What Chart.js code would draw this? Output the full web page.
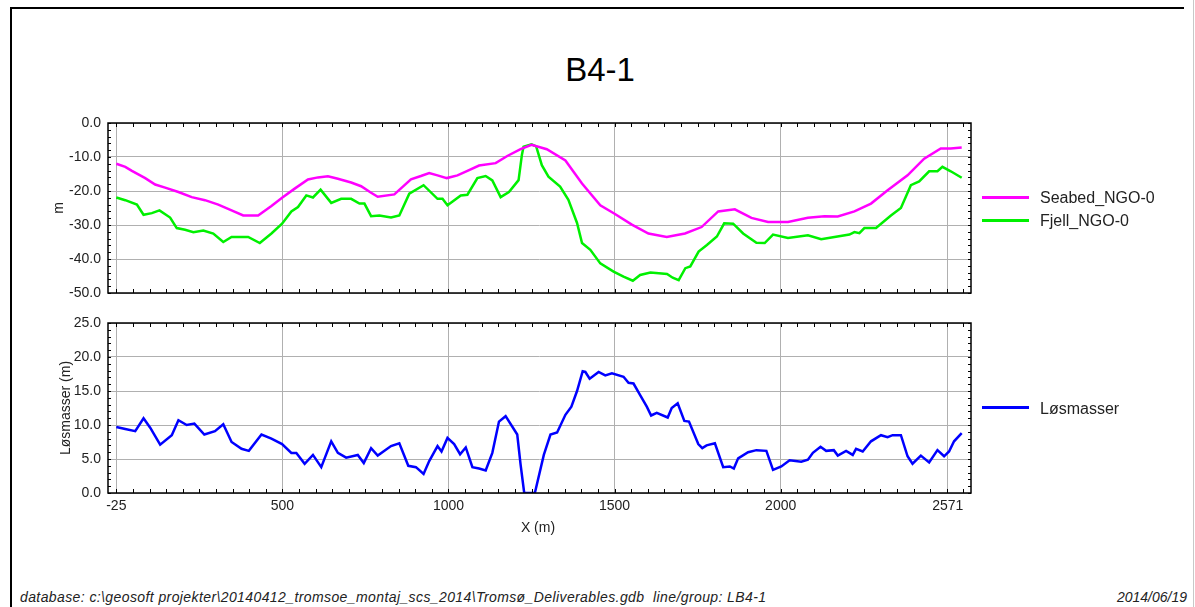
<!DOCTYPE html>
<html><head><meta charset="utf-8">
<script src="https://cdn.jsdelivr.net/npm/chart.js@4.4.1/dist/chart.umd.min.js"></script>
<style>
html,body{margin:0;padding:0;background:#fff;}
body{width:1195px;height:607px;position:relative;overflow:hidden;font-family:"Liberation Sans",Arial,sans-serif;color:#222;}
.abs{position:absolute;white-space:nowrap;}
.lg-line{position:absolute;height:3px;}
.lg-text{position:absolute;font-size:16px;line-height:20px;color:#222;}
.ytitle{position:absolute;font-size:14px;line-height:16px;transform:translate(-50%,-50%) rotate(-90deg);white-space:nowrap;color:#222;}
</style></head><body>
<div class="abs" style="left:10px;top:7px;width:1172px;height:620px;border-left:2px solid #000;border-top:2px solid #000;"></div>
<div class="abs" style="left:1193px;top:0;width:1px;height:607px;background:#c8c8c8;"></div>
<div class="abs" style="left:0;top:50px;width:1200px;text-align:center;font-size:33px;line-height:40px;color:#000;">B4-1</div>

<div class="abs" style="left:0;top:113px;width:1195px;height:190px;"><canvas id="c1" width="1195" height="190"></canvas></div>
<div class="abs" style="left:0;top:313px;width:1195px;height:230px;"><canvas id="c2" width="1195" height="230"></canvas></div>

<div class="ytitle" style="left:58px;top:208px;">m</div>
<div class="ytitle" style="left:65px;top:408px;">Løsmasser (m)</div>
<div class="abs" style="left:438px;top:519px;width:200px;text-align:center;font-size:14px;line-height:16px;">X (m)</div>

<div class="lg-line" style="left:982px;top:196px;width:47px;background:#ff00ff;"></div>
<div class="lg-text" style="left:1040px;top:188px;">Seabed_NGO-0</div>
<div class="lg-line" style="left:982px;top:219px;width:47px;background:#00f000;"></div>
<div class="lg-text" style="left:1040px;top:211px;">Fjell_NGO-0</div>
<div class="lg-line" style="left:982px;top:406px;width:47px;background:#0000ff;"></div>
<div class="lg-text" style="left:1040px;top:399px;">Løsmasser</div>

<div class="abs" style="left:20px;top:589px;font-size:14px;line-height:16px;font-style:italic;letter-spacing:0.4px;color:#222;">database: c:\geosoft projekter\20140412_tromsoe_montaj_scs_2014\Tromsø_Deliverables.gdb&nbsp; line/group: LB4-1</div>
<div class="abs" style="right:8px;top:589px;font-size:14px;line-height:16px;font-style:italic;color:#222;">2014/06/19</div>

<script>
// ---- data ----
const xTickValues = [0, 500, 1000, 1500, 2000, 2503];
const xTickLabels = ["-25", "500", "1000", "1500", "2000", "2571"];

const seabedX = [0,27,47,87,117,147,187,227,267,307,347,382,427,467,499,537,577,607,637,667,707,737,767,787,837,887,917,942,967,995,1027,1057,1092,1142,1177,1217,1250,1296,1352,1402,1457,1500,1552,1602,1657,1712,1762,1812,1862,1912,1962,2022,2082,2132,2172,2222,2272,2322,2382,2432,2482,2512,2545];
const seabedY = [-12.0,-12.9,-14.1,-16.2,-18.1,-19.0,-20.3,-21.8,-22.7,-24.0,-25.7,-27.2,-27.2,-24.4,-22.0,-19.3,-16.6,-16.0,-15.7,-16.4,-17.5,-18.6,-20.5,-21.7,-21.0,-16.6,-15.6,-14.7,-15.4,-16.2,-15.4,-14.1,-12.5,-11.8,-9.7,-7.7,-6.4,-7.7,-11.0,-17.8,-24.2,-26.7,-29.9,-32.5,-33.5,-32.5,-30.6,-26.0,-25.4,-27.9,-29.1,-29.1,-27.9,-27.4,-27.5,-26.0,-23.7,-19.8,-15.4,-10.5,-7.5,-7.5,-7.2];

const fjellX = [0,27,62,82,107,130,162,182,207,232,262,292,322,347,397,432,467,499,527,547,572,592,615,647,677,707,732,747,767,792,827,852,882,925,967,982,997,1037,1057,1087,1112,1132,1157,1182,1211,1221,1226,1250,1264,1281,1301,1336,1361,1387,1402,1427,1457,1497,1527,1555,1577,1608,1658,1675,1693,1713,1728,1753,1778,1808,1830,1857,1887,1927,1952,1977,2022,2082,2122,2162,2207,2222,2237,2252,2287,2332,2362,2392,2417,2447,2472,2487,2512,2545];
const fjellY = [-21.9,-22.7,-24.0,-27.0,-26.5,-25.7,-27.8,-30.9,-31.4,-32.1,-31.6,-32.5,-35.0,-33.5,-33.5,-35.3,-32.5,-29.6,-26.0,-24.7,-21.3,-21.9,-19.6,-23.5,-22.3,-22.3,-23.7,-23.7,-27.4,-27.2,-27.8,-27.2,-20.8,-18.3,-22.3,-22.3,-24.2,-21.3,-21.1,-16.2,-15.6,-16.9,-21.8,-20.3,-16.8,-9.4,-7.0,-6.3,-6.9,-12.4,-15.8,-18.7,-22.6,-29.4,-35.3,-37.3,-41.3,-43.7,-45.2,-46.4,-44.7,-44.0,-44.4,-45.5,-46.2,-42.7,-42.2,-37.8,-35.9,-33.4,-29.5,-29.6,-32.5,-35.2,-35.3,-32.8,-33.8,-33.0,-34.2,-33.5,-32.8,-32.1,-32.4,-30.9,-30.9,-27.2,-25.0,-18.3,-17.2,-14.2,-14.2,-12.9,-14.2,-16.1];

const losX = [0,27,57,82,102,132,167,187,212,235,265,297,322,347,377,399,437,467,499,527,542,567,592,617,647,667,692,727,745,767,787,827,852,879,902,925,942,967,979,997,1017,1035,1052,1072,1092,1112,1132,1152,1172,1207,1217,1228,1260,1287,1307,1327,1352,1370,1387,1404,1412,1425,1452,1472,1492,1527,1542,1557,1577,1597,1610,1627,1660,1672,1690,1710,1724,1752,1764,1777,1802,1827,1847,1859,1872,1902,1927,1957,1977,2002,2027,2062,2082,2097,2120,2137,2160,2172,2197,2217,2227,2247,2272,2302,2322,2337,2362,2382,2397,2422,2447,2472,2492,2507,2522,2545];
const losY = [9.7,9.4,9.1,11.0,9.6,7.1,8.5,10.7,10.0,10.2,8.6,9.1,10.1,7.5,6.5,6.2,8.6,8.0,7.2,5.9,5.9,4.3,5.6,3.8,7.6,5.9,5.2,5.6,4.4,6.6,5.5,6.9,7.3,4.0,3.8,2.8,4.7,6.9,6.1,8.1,7.2,5.7,6.7,3.8,3.6,3.3,5.9,10.5,11.3,8.6,4.2,0,0,5.6,8.6,8.9,11.5,12.7,15.0,17.9,17.8,16.8,17.8,17.3,17.6,17.1,16.2,16.1,14.4,12.7,11.4,11.8,11.1,12.5,13.2,10.6,10.5,7.2,6.6,7.0,7.3,3.8,3.9,3.6,5.1,6.0,6.3,6.2,3.4,3.9,4.8,4.6,4.9,5.9,6.8,6.2,6.3,5.5,6.2,5.6,6.5,6.1,7.6,8.5,8.2,8.5,8.5,5.4,4.3,5.5,4.5,6.3,5.4,6.1,7.6,8.8];

// ---- chart ----
Chart.defaults.font.family = '"Liberation Sans", Arial, sans-serif';
Chart.defaults.color = '#222';

function pts(xs, ys) { return xs.map((x, i) => ({ x: x, y: ys[i] })); }

const framePlugin = {
  id: 'frame',
  afterDraw(chart, args, o) {
    const ctx = chart.ctx, a = chart.chartArea;
    const xs = chart.scales.x, ys = chart.scales.y;
    ctx.save();
    ctx.strokeStyle = '#000';
    ctx.lineWidth = 1;
    ctx.beginPath();
    for (let v = 0; v <= o.xMinorMax; v += o.xMinor) {
      const p = Math.round(xs.getPixelForValue(v)) + 0.5;
      ctx.moveTo(p, a.top); ctx.lineTo(p, a.top + 4);
      ctx.moveTo(p, a.bottom); ctx.lineTo(p, a.bottom - 4);
    }
    for (let v = ys.min; v <= ys.max + 1e-9; v += o.yMinor) {
      const p = Math.round(ys.getPixelForValue(v)) + 0.5;
      ctx.moveTo(a.left, p); ctx.lineTo(a.left + 3, p);
      ctx.moveTo(a.right, p); ctx.lineTo(a.right - 3, p);
    }
    ctx.stroke();
    ctx.lineWidth = 1.5;
    ctx.strokeRect(a.left, a.top, a.right - a.left, a.bottom - a.top);
    ctx.restore();
  }
};

function zeroPad(s) { s.paddingTop = 0; s.paddingBottom = 0; s.paddingLeft = 0; s.paddingRight = 0; }

function makeOptions(cfg) {
  return {
    responsive: false, animation: false, devicePixelRatio: 1,
    layout: { padding: { left: 0, right: 224, top: 10, bottom: cfg.showX ? 0 : 10 } },
    plugins: {
      legend: { display: false }, tooltip: { enabled: false },
      frame: { xMinor: 50, xMinorMax: 2550, yMinor: cfg.yMinor }
    },
    scales: {
      x: {
        type: 'linear', min: -25, max: 2573,
        grid: { color: '#b0b0b0', drawTicks: false, lineWidth: 1 },
        border: { display: false },
        afterBuildTicks(s) { s.ticks = xTickValues.map(v => ({ value: v })); },
        afterFit(s) { s.height = cfg.showX ? 50 : 0; zeroPad(s); },
        ticks: { display: cfg.showX, padding: 5, font: { size: 14 }, color: '#222', maxRotation: 0, autoSkip: false,
                 callback: (v, i) => xTickLabels[i] }
      },
      y: {
        min: cfg.yMin, max: cfg.yMax,
        grid: { color: '#b0b0b0', drawTicks: false, lineWidth: 1 },
        border: { display: false },
        afterFit(s) { s.width = 108; zeroPad(s); },
        ticks: { stepSize: cfg.yStep, padding: 7, font: { size: 14 }, color: '#222',
                 callback: v => Number(v).toFixed(1) }
      }
    }
  };
}

function ds(label, data, color) {
  return { label: label, data: data, borderColor: color, backgroundColor: color, borderWidth: 2.5,
           pointRadius: 0, fill: false, tension: 0 };
}

new Chart(document.getElementById('c1'), {
  type: 'line',
  data: { datasets: [ds('Seabed_NGO-0', pts(seabedX, seabedY), '#ff00ff'), ds('Fjell_NGO-0', pts(fjellX, fjellY), '#00f000')] },
  options: makeOptions({ yMin: -50, yMax: 0, yStep: 10, yMinor: 2, showX: false }),
  plugins: [framePlugin]
});

new Chart(document.getElementById('c2'), {
  type: 'line',
  data: { datasets: [ds('Løsmasser', pts(losX, losY), '#0000ff')] },
  options: makeOptions({ yMin: 0, yMax: 25, yStep: 5, yMinor: 1, showX: true }),
  plugins: [framePlugin]
});
</script>
</body></html>
